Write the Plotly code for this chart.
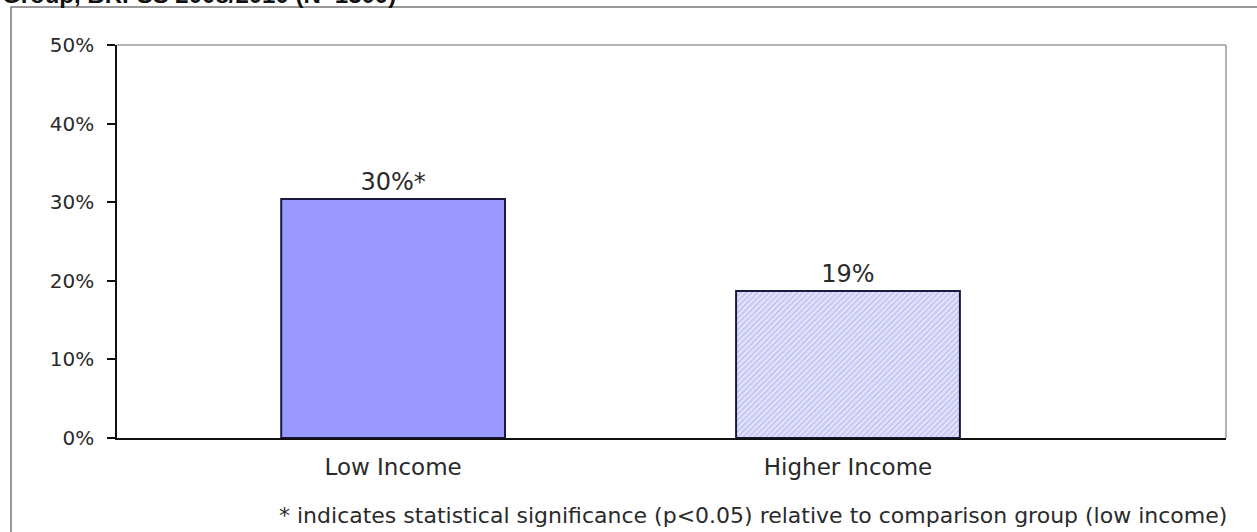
import plotly.graph_objects as go

# Share of adults by income group (percent)
categories = ["Low Income", "Higher Income"]
values = [30.4, 18.7]
significant = [True, False]
y_ticks = [0, 10, 20, 30, 40, 50]
y_tick_labels = ["0%", "10%", "20%", "30%", "40%", "50%"]

title_text = "Group, BRFSS 2008/2010 (N=1300)"
footnote = "* indicates statistical significance (p<0.05) relative to comparison group (low income)"

W, H = 1257, 532
L, R, T, B = 117, 31, 45, 94
plot_w = W - L - R
plot_h = H - T - B


def px_x(p):
    return (p - L) / plot_w


def px_y(p):
    return (H - B - p) / plot_h


FONT = "DejaVu Sans, Verdana, sans-serif"
TITLE_FONT = "Liberation Sans, Arial, sans-serif"

x_pos = list(range(len(categories)))
labels = [f"{round(v)}%" + ("*" if s else "") for v, s in zip(values, significant)]

fig = go.Figure()
fig.add_trace(go.Bar(
    x=x_pos[:1], y=values[:1], width=0.492,
    marker=dict(color="#9999FF", line=dict(color="#1a1a40", width=2)),
    text=labels[:1], textposition="outside", cliponaxis=False,
    textfont=dict(family=FONT, size=24, color="#2a2a2a"),
))
fig.add_trace(go.Bar(
    x=x_pos[1:], y=values[1:], width=0.492,
    marker=dict(color="white",
                pattern=dict(shape="/", fgcolor="#a0a0ea", bgcolor="#e4e4fa",
                             size=4, solidity=0.45),
                line=dict(color="#1a1a40", width=2)),
    text=labels[1:], textposition="outside", cliponaxis=False,
    textfont=dict(family=FONT, size=24, color="#2a2a2a"),
))

fig.update_layout(
    width=W, height=H,
    margin=dict(l=L, r=R, t=T, b=B),
    paper_bgcolor="white", plot_bgcolor="white",
    showlegend=False,
    xaxis=dict(
        range=[-0.607, 1.831], tickvals=x_pos, ticktext=categories,
        showline=True, linecolor="#111", linewidth=1.5,
        showgrid=False, zeroline=False, ticks="",
        ticklabelstandoff=8,
        tickfont=dict(family=FONT, size=23, color="#2a2a2a"),
    ),
    yaxis=dict(
        range=[0, 50], tickvals=y_ticks, ticktext=y_tick_labels,
        showline=True, linecolor="#111", linewidth=1.5,
        ticks="outside", ticklen=8, tickcolor="#111", tickwidth=1.5,
        ticklabelstandoff=9,
        showgrid=False, zeroline=False,
        tickfont=dict(family=FONT, size=20, color="#2a2a2a"),
    ),
)

# Plot area top and right edges
fig.add_shape(type="line", xref="paper", yref="paper", x0=0, x1=1, y0=1, y1=1,
              line=dict(color="#9a9a9a", width=1.5))
fig.add_shape(type="line", xref="paper", yref="paper", x0=1, x1=1, y0=0, y1=1,
              line=dict(color="#9a9a9a", width=1.5))
# Outer chart frame
fig.add_shape(type="rect", xref="paper", yref="paper",
              x0=px_x(11), x1=px_x(1270), y0=px_y(545), y1=px_y(7),
              line=dict(color="#7a7a7a", width=1.5), layer="below")

# Title (last line of the figure heading)
fig.add_annotation(text=f"<b>{title_text}</b>", xref="paper", yref="paper",
                   x=px_x(0), y=px_y(10), xanchor="left", yanchor="bottom",
                   showarrow=False, font=dict(family=TITLE_FONT, size=24, color="#111"))
# Footnote
fig.add_annotation(text=footnote, xref="paper", yref="paper",
                   x=px_x(277), y=px_y(515), xanchor="left", yanchor="middle",
                   showarrow=False, font=dict(family=FONT, size=22, color="#2a2a2a"))

fig.write_html("out.html")
